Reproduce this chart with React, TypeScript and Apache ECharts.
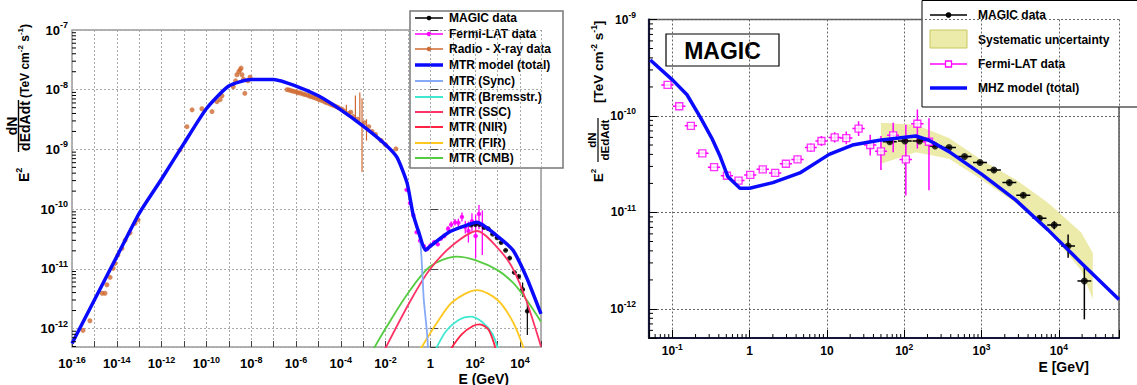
import React, { useEffect, useRef } from 'react';
import * as echarts from 'echarts';

const FONT = '"Liberation Sans", Arial, Helvetica, sans-serif';
type P = [number, number];

// ================= LEFT PANEL (MTR model) : E [GeV], E^2 dN/dE [TeV cm^-2 s^-1]
const mtrTotal: P[] = [
  [1e-16, 5.6e-13], [1e-15, 3.0e-12], [1e-14, 1.6e-11], [1e-13, 8.5e-11],
  [1e-12, 3.2e-10], [1e-11, 1.26e-9], [1e-10, 4.8e-9], [1e-9, 1.15e-8],
  [1e-8, 1.48e-8], [1e-7, 1.48e-8], [1e-6, 1.15e-8], [1e-5, 7.9e-9],
  [1e-4, 4.6e-9], [1e-3, 2.45e-9], [1e-2, 1.2e-9], [3.2e-2, 7.4e-10],
  [0.091, 2.75e-10], [0.166, 8.5e-11], [0.31, 4.0e-11], [0.6, 2.05e-11],
  [1, 2.4e-11], [7.5, 4.2e-11], [32, 5.2e-11], [120, 6.0e-11],
  [1000, 3.5e-11], [4900, 2.04e-11], [2e4, 7.1e-12], [8.7e4, 1.75e-12],
];
const mtrSync: P[] = [
  [1e-16, 5.6e-13], [1e-15, 3.0e-12], [1e-14, 1.6e-11], [1e-13, 8.5e-11],
  [1e-12, 3.2e-10], [1e-11, 1.26e-9], [1e-10, 4.8e-9], [1e-9, 1.15e-8],
  [1e-8, 1.48e-8], [1e-7, 1.48e-8], [1e-6, 1.15e-8], [1e-5, 7.9e-9],
  [1e-4, 4.6e-9], [1e-3, 2.45e-9], [1e-2, 1.2e-9], [3.2e-2, 7.3e-10],
  [0.091, 2.7e-10], [0.166, 8.2e-11], [0.35, 3.0e-11], [0.51, 3.0e-12],
  [0.7, 9.0e-13], [0.85, 3.0e-13],
];
const mtrBrems: P[] = [[1.5, 4.0e-13], [5, 9.0e-13], [20, 1.42e-12], [60, 1.58e-12], [200, 1.3e-12], [600, 8.0e-13], [1150, 4.0e-13]];
const mtrSSC: P[] = [[8e-3, 4.0e-13], [0.135, 3.0e-12], [1, 1.0e-11], [10, 2.5e-11], [120, 4.3e-11], [1000, 2.25e-11], [4900, 1.0e-11], [2e4, 2.8e-12], [8.7e4, 5.0e-13]];
const mtrNIR: P[] = [[6.5, 4.0e-13], [25, 8.0e-13], [80, 1.1e-12], [160, 1.17e-12], [400, 9.5e-13], [900, 4.0e-13]];
const mtrFIR: P[] = [[0.3, 4.0e-13], [2, 1.26e-12], [10, 2.8e-12], [120, 4.4e-12], [1000, 3.0e-12], [5000, 1.26e-12], [1.7e4, 4.0e-13]];
const mtrCMB: P[] = [[2.4e-3, 4.0e-13], [1e-2, 1.0e-12], [0.1, 3.9e-12], [1, 1.1e-11], [15, 1.6e-11], [100, 1.4e-11], [1000, 9.5e-12], [5000, 5.8e-12], [2e4, 3.0e-12], [8.7e4, 1.3e-12]];

const radioXray: P[] = [
  [3.1e-16, 9.3e-13], [6.3e-16, 1.35e-12], [2.2e-15, 3.9e-12], [2.95e-15, 3.9e-12], [3.6e-15, 5.4e-12],
  [5.0e-15, 7.2e-12], [6.8e-15, 1.02e-11], [8.3e-15, 1.23e-11], [1.12e-14, 1.7e-11], [1.7e-14, 2.2e-11],
  [2.35e-14, 3.0e-11], [3.9e-14, 4.0e-11], [6.5e-14, 5.75e-11], [8.9e-14, 6.6e-11],
  [6.6e-12, 9.8e-10], [1.35e-11, 2.4e-9], [2.3e-11, 4.6e-9], [6.3e-11, 4.8e-9], [1.78e-10, 4.3e-9],
  [2.95e-10, 6.3e-9], [4.1e-10, 6.8e-9], [5.0e-10, 7.9e-9], [1.58e-9, 1.12e-8], [2.0e-9, 1.41e-8],
  [2.3e-9, 1.78e-8], [2.8e-9, 2.0e-8], [3.2e-9, 2.15e-8], [3.55e-9, 2.3e-8], [3.9e-9, 1.78e-8],
  [4.5e-9, 1.5e-8], [5.2e-9, 8.7e-9], [7.1e-9, 1.41e-8], [8.9e-9, 1.62e-8],
  [4.0e-7, 1.0e-8], [5.0e-7, 9.9e-9], [6.3e-7, 9.6e-9], [7.9e-7, 9.4e-9], [1.0e-6, 9.2e-9],
  [1.26e-6, 8.9e-9], [1.58e-6, 8.8e-9], [2.0e-6, 8.5e-9], [2.5e-6, 8.3e-9], [3.2e-6, 8.1e-9],
  [4.0e-6, 7.8e-9], [5.0e-6, 7.6e-9], [6.3e-6, 7.4e-9], [7.9e-6, 7.2e-9], [1.0e-5, 6.9e-9],
  [1.26e-5, 6.7e-9], [1.58e-5, 6.5e-9], [2.0e-5, 6.2e-9], [2.5e-5, 6.0e-9], [3.2e-5, 5.8e-9],
  [4.0e-5, 5.6e-9], [5.0e-5, 5.4e-9], [6.3e-5, 5.2e-9],
  [7.9e-5, 5.0e-9], [1.12e-4, 4.7e-9], [1.41e-4, 4.4e-9], [2.24e-4, 4.0e-9], [2.8e-4, 4.2e-9],
  [3.55e-4, 3.55e-9], [5.6e-4, 3.2e-9], [1.12e-3, 2.8e-9], [1.78e-3, 2.4e-9], [2.5e-3, 2.0e-9],
  [3.55e-3, 1.78e-9], [6.3e-3, 1.41e-9], [1.0e-2, 1.2e-9], [2.9e-2, 1.02e-9],
];
// [E, F, Flow, Fhigh]
const radioXrayErr: number[][] = [
  [1.78e-4, 4.7e-9, 3.9e-9, 5.6e-9], [4.5e-4, 5.0e-9, 3.2e-9, 8.0e-9], [7.1e-4, 5.6e-9, 2.8e-9, 9.0e-9],
  [8.9e-4, 3.2e-9, 4.2e-10, 7.2e-9], [1.41e-3, 2.0e-9, 1.4e-9, 3.2e-9],
];

// ================= shared data: [E, F, Elow, Ehigh, Flow, Fhigh]
const fermiLAT: number[][] = [
  [0.087, 2.1e-10, 0.072, 0.104, 2.05e-10, 2.15e-10],
  [0.123, 1.26e-10, 0.102, 0.148, 1.23e-10, 1.29e-10],
  [0.174, 7.9e-11, 0.145, 0.209, 7.7e-11, 8.1e-11],
  [0.245, 4.1e-11, 0.204, 0.294, 4.0e-11, 4.2e-11],
  [0.347, 2.95e-11, 0.289, 0.416, 2.87e-11, 3.03e-11],
  [0.51, 2.4e-11, 0.425, 0.61, 2.33e-11, 2.48e-11],
  [0.72, 2.14e-11, 0.6, 0.86, 2.05e-11, 2.24e-11],
  [1.02, 2.45e-11, 0.85, 1.22, 2.32e-11, 2.6e-11],
  [1.48, 2.8e-11, 1.23, 1.78, 2.62e-11, 3.0e-11],
  [2.14, 2.57e-11, 1.78, 2.57, 2.4e-11, 2.75e-11],
  [2.95, 3.2e-11, 2.46, 3.54, 2.95e-11, 3.45e-11],
  [4.17, 3.55e-11, 3.47, 5.0, 3.25e-11, 3.9e-11],
  [6.2, 4.7e-11, 5.2, 7.4, 4.25e-11, 5.2e-11],
  [8.5, 5.5e-11, 7.1, 10.2, 4.9e-11, 6.2e-11],
  [12.6, 6.0e-11, 10.5, 15.1, 5.3e-11, 6.8e-11],
  [17.8, 5.9e-11, 14.8, 21.4, 5.1e-11, 6.9e-11],
  [25.7, 7.4e-11, 21.4, 30.8, 6.2e-11, 8.8e-11],
  [36.3, 5.0e-11, 30.2, 43.6, 3.9e-11, 6.4e-11],
  [50, 4.3e-11, 42, 60, 2.75e-11, 6.2e-11],
  [72, 6.3e-11, 60, 86, 4.2e-11, 8.5e-11],
  [105, 3.55e-11, 87, 126, 1.5e-11, 8.1e-11],
  [148, 8.3e-11, 123, 178, 4.6e-11, 1.17e-10],
  [209, 5.4e-11, 174, 251, 1.7e-11, 9.5e-11],
];
const magicData: number[][] = [
  [65, 5.4e-11, 53, 80, 5.2e-11, 5.6e-11],
  [102, 5.5e-11, 83, 125, 5.3e-11, 5.7e-11],
  [158, 5.5e-11, 128, 194, 5.3e-11, 5.7e-11],
  [251, 4.9e-11, 204, 309, 4.75e-11, 5.05e-11],
  [380, 4.7e-11, 309, 467, 4.55e-11, 4.85e-11],
  [603, 3.8e-11, 490, 742, 3.68e-11, 3.92e-11],
  [955, 3.3e-11, 776, 1175, 3.18e-11, 3.42e-11],
  [1445, 2.75e-11, 1175, 1778, 2.63e-11, 2.87e-11],
  [2290, 2.04e-11, 1862, 2818, 1.94e-11, 2.14e-11],
  [3470, 1.51e-11, 2820, 4270, 1.42e-11, 1.6e-11],
  [5620, 8.7e-12, 4570, 6910, 8.1e-12, 9.3e-12],
  [8710, 7.4e-12, 7080, 10700, 6.7e-12, 8.1e-12],
  [13180, 4.5e-12, 10700, 16200, 3.4e-12, 5.9e-12],
  [21380, 1.95e-12, 17400, 26300, 7.8e-13, 2.75e-12],
];

// ================= RIGHT PANEL (MHZ model)
const mhzModel: P[] = [
  [0.052, 3.8e-10], [0.102, 2.34e-10], [0.155, 1.66e-10], [0.229, 9.8e-11], [0.324, 5.9e-11],
  [0.417, 3.8e-11], [0.525, 2.34e-11], [0.75, 1.78e-11], [1.0, 1.78e-11], [2.0, 2.04e-11],
  [4.47, 2.57e-11], [10.7, 4.0e-11], [21.4, 5.0e-11], [47.9, 5.6e-11], [141, 6.2e-11],
  [209, 5.6e-11], [380, 4.27e-11], [1000, 2.5e-11], [2750, 1.35e-11], [7240, 6.6e-12],
  [19500, 3.0e-12], [60000, 1.25e-12],
];
const sysE = [50, 141, 380, 1000, 2750, 7240, 19500, 27500];
const sysUpper = [8.5e-11, 8.1e-11, 5.9e-11, 3.5e-11, 2.2e-11, 1.26e-11, 6.2e-12, 3.8e-12];
const sysLower = [3.2e-11, 4.2e-11, 3.6e-11, 2.2e-11, 1.26e-11, 6.6e-12, 2.5e-12, 1.26e-12];

const leftLegend = [
  { name: 'MAGIC data', color: '#000000', w: 1.5, dot: 'c' },
  { name: 'Fermi-LAT data', color: '#ff00ff', w: 1.5, dot: 'c' },
  { name: 'Radio - X-ray data', color: '#cf6a32', w: 1.5, dot: 'c' },
  { name: 'MTR model (total)', color: '#0a0aff', w: 3.5, dot: '' },
  { name: 'MTR (Sync)', color: '#86aaf8', w: 2, dot: '' },
  { name: 'MTR (Bremsstr.)', color: '#40e8d0', w: 2, dot: '' },
  { name: 'MTR (SSC)', color: '#ff3366', w: 2, dot: '' },
  { name: 'MTR (NIR)', color: '#ff2244', w: 2, dot: '' },
  { name: 'MTR (FIR)', color: '#ffc820', w: 2, dot: '' },
  { name: 'MTR (CMB)', color: '#55cc40', w: 2, dot: '' },
];

// ----------------------------------------------------------------
const L = (d: P[]) => d.map(([e, f]) => [Math.log10(e), f]);
const lg = (v: number) => Math.log10(v);
const id = (v: number) => v;

function lineS(data: any[], color: string, width: number, axis: number, smooth: any = false) {
  return {
    type: 'line', data, xAxisIndex: axis, yAxisIndex: axis, showSymbol: false, symbol: 'none',
    smooth, clip: true, silent: true, lineStyle: { color, width }, itemStyle: { color },
  };
}
function scatS(data: any[], axis: number, symbol: string, size: number, itemStyle: any) {
  return { type: 'scatter', data, xAxisIndex: axis, yAxisIndex: axis, symbol, symbolSize: size, itemStyle, silent: true, clip: true };
}
function errS(rows: number[][], color: string, width: number, axis: number, tx: (v: number) => number) {
  return {
    type: 'custom', xAxisIndex: axis, yAxisIndex: axis, silent: true, clip: true,
    data: rows.map((r) => [tx(r[0]), r[1], tx(r[2]), tx(r[3]), r[4], r[5]]),
    encode: { x: 0, y: 1 },
    renderItem: (_p: any, api: any) => {
      const y = api.value(1), x = api.value(0);
      const a = api.coord([api.value(2), y]);
      const b = api.coord([api.value(3), y]);
      const lo = api.coord([x, api.value(4)]);
      const hi = api.coord([x, api.value(5)]);
      const st = { stroke: color, lineWidth: width };
      return {
        type: 'group', children: [
          { type: 'line', shape: { x1: a[0], y1: a[1], x2: b[0], y2: b[1] }, style: st },
          { type: 'line', shape: { x1: lo[0], y1: lo[1], x2: hi[0], y2: hi[1] }, style: st },
        ],
      };
    },
  };
}
function minorVals(lo: number, hi: number) {
  const out: number[] = [];
  for (let k = Math.floor(Math.log10(lo)); k <= Math.ceil(Math.log10(hi)); k++) {
    for (let m = 2; m <= 9; m++) { const v = m * Math.pow(10, k); if (v > lo && v < hi) out.push(v); }
  }
  return out;
}
function tickS(axis: number, pts: number[][], dir: 'x' | 'y', len: number) {
  return {
    type: 'custom', xAxisIndex: axis, yAxisIndex: axis, silent: true, clip: false, z: 6,
    data: pts, encode: { x: 0, y: 1 },
    renderItem: (_p: any, api: any) => {
      const c = api.coord([api.value(0), api.value(1)]);
      const shape = dir === 'x' ? { x1: c[0], y1: c[1], x2: c[0], y2: c[1] - len } : { x1: c[0], y1: c[1], x2: c[0] + len, y2: c[1] };
      return { type: 'line', shape, style: { stroke: '#000', lineWidth: 1 } };
    },
  };
}
const rich = (fs: number, sfs: number, lh: number) => ({
  b: { fontSize: fs, fontWeight: 'bold', fontFamily: FONT, color: '#000', lineHeight: lh },
  s: { fontSize: sfs, fontWeight: 'bold', fontFamily: FONT, color: '#000', lineHeight: sfs + 1, verticalAlign: 'top' },
});
function expFmt(e: number, step: number) {
  const r = Math.round(e);
  if (Math.abs(e - r) > 1e-6 || r % step !== 0) return '';
  if (r === 0) return '{b|1}';
  if (r === 1) return '{b|10}';
  return `{b|10}{s|${r}}`;
}
const txt = (text: string, x: number, y: number, fs: number, align = 'left', extra: any = {}) => ({
  type: 'text', x, y,
  style: { text, fontSize: fs, fontWeight: 'bold', fontFamily: FONT, fill: '#000', align, verticalAlign: 'middle', textAlign: align, textVerticalAlign: 'middle', ...extra },
});

function buildOption() {
  const leftRows = [18, 34, 49, 65, 81, 97, 112, 127, 143, 158];
  const leftLegendChildren: any[] = [
    { type: 'rect', shape: { x: 410, y: 11, width: 153, height: 157 }, style: { fill: '#fff', stroke: '#777', lineWidth: 1.5 } },
  ];
  leftLegend.forEach((it, i) => {
    const y = leftRows[i];
    leftLegendChildren.push({ type: 'line', shape: { x1: 415, y1: y, x2: 443, y2: y }, style: { stroke: it.color, lineWidth: it.w } });
    if (it.dot) leftLegendChildren.push({ type: 'circle', shape: { cx: 429, cy: y, r: 2.3 }, style: { fill: it.color } });
    leftLegendChildren.push(txt(it.name, 449, y, 12));
  });

  const rRows = [15, 40, 64, 88];
  const rightLegendChildren: any[] = [
    { type: 'rect', shape: { x: 922, y: 0.5, width: 230, height: 106.5 }, style: { fill: '#fff', stroke: '#000', lineWidth: 1 } },
    { type: 'line', shape: { x1: 930, y1: rRows[0], x2: 967, y2: rRows[0] }, style: { stroke: '#000', lineWidth: 1.3 } },
    { type: 'circle', shape: { cx: 948.5, cy: rRows[0], r: 2.8 }, style: { fill: '#000' } },
    txt('MAGIC data', 978, rRows[0], 12),
    { type: 'rect', shape: { x: 930, y: 30, width: 37, height: 18 }, style: { fill: '#ecebaa', stroke: '#c9c860', lineWidth: 1 } },
    txt('Systematic uncertainty', 978, rRows[1], 12),
    { type: 'line', shape: { x1: 930, y1: rRows[2], x2: 967, y2: rRows[2] }, style: { stroke: '#ff00ff', lineWidth: 1.3 } },
    { type: 'rect', shape: { x: 945.5, y: rRows[2] - 3, width: 6, height: 6 }, style: { fill: '#fff', stroke: '#ff00ff', lineWidth: 1.3 } },
    txt('Fermi-LAT data', 978, rRows[2], 12),
    { type: 'line', shape: { x1: 930, y1: rRows[3], x2: 967, y2: rRows[3] }, style: { stroke: '#0a0aff', lineWidth: 3.5 } },
    txt('MHZ model (total)', 978, rRows[3], 12),
  ];

  const supRich = (fs: number, sfs: number) => ({
    n: { fontSize: fs, fontWeight: 'bold', fontFamily: FONT, fill: '#000', color: '#000', lineHeight: fs + 4 },
    s: { fontSize: sfs, fontWeight: 'bold', fontFamily: FONT, fill: '#000', color: '#000', lineHeight: sfs + 1, verticalAlign: 'top' },
  });

  const leftTitle = {
    type: 'group', x: 18.5, y: 182, rotation: Math.PI / 2, z: 100,
    children: [
      txt('{n|E}{s|2}', 0, 5, 14, 'left', { rich: supRich(14, 9) }),
      txt('dN', 56, -6.5, 14, 'center'),
      { type: 'line', shape: { x1: 30, y1: 0, x2: 82, y2: 0 }, style: { stroke: '#000', lineWidth: 1.4 } },
      txt('dEdAdt', 56, 6.5, 14, 'center'),
      txt('{n|(TeV cm}{s|-2}{n| s}{s|-1}{n|)}', 84, 6, 12, 'left', { rich: supRich(12, 8) }),
    ],
  };
  const rightTitle = {
    type: 'group', x: 598, y: 182, rotation: Math.PI / 2, z: 100,
    children: [
      txt('{n|E}{s|2}', 0, 0, 13, 'left', { rich: supRich(13, 8) }),
      txt('dN', 42, -6.5, 11.5, 'center'),
      { type: 'line', shape: { x1: 20, y1: 0, x2: 64, y2: 0 }, style: { stroke: '#000', lineWidth: 1.2 } },
      txt('dEdAdt', 42, 6.5, 11.5, 'center'),
      txt('{n|[TeV cm}{s|-2}{n| s}{s|-1}{n|]}', 79, 0, 13.5, 'left', { rich: supRich(13.5, 8.5) }),
    ],
  };

  const leftXMin = -16, leftXMax = 4.94;
  const lYMin = 4.9e-13, lYMax = 1e-7;
  const rXMin = 0.05, rXMax = 6e4, rYMin = 5e-13, rYMax = 1e-9;

  const series: any[] = [
    lineS(L(mtrCMB), '#55cc40', 1.8, 0, 0.3),
    lineS(L(mtrFIR), '#ffc820', 1.8, 0, 0.3),
    lineS(L(mtrBrems), '#40e8d0', 1.8, 0, 0.3),
    lineS(L(mtrNIR), '#ff2244', 1.8, 0, 0.3),
    lineS(L(mtrSSC), '#ff3366', 1.8, 0, 0.3),
    lineS(L(mtrSync), '#86aaf8', 1.8, 0, 0.2),
    errS(radioXrayErr.map((r) => [r[0], r[1], r[0], r[0], r[2], r[3]]), '#cf6a32', 1.2, 0, lg),
    scatS(L(radioXray), 0, 'circle', 5, { color: '#cf6a32' }),
    lineS(L(mtrTotal), '#0a0aff', 3.5, 0, 0.2),
    errS(fermiLAT, '#ff00ff', 1.3, 0, lg),
    scatS(fermiLAT.map((r) => [lg(r[0]), r[1]]), 0, 'circle', 4.5, { color: '#ff00ff' }),
    errS(magicData, '#000', 1.2, 0, lg),
    scatS(magicData.map((r) => [lg(r[0]), r[1]]), 0, 'circle', 5, { color: '#000' }),
    tickS(0, minorVals(lYMin, lYMax).map((v) => [leftXMin, v]), 'y', 4),
    // right panel
    {
      type: 'custom', xAxisIndex: 1, yAxisIndex: 1, silent: true, clip: true,
      data: sysE.map((e, i) => [e, sysLower[i], sysUpper[i]]), encode: { x: 0, y: [1, 2] },
      renderItem: (p: any, api: any) => {
        if (p.dataIndex !== 0) return null;
        const up = sysE.map((e, i) => api.coord([e, sysUpper[i]]));
        const lo = sysE.map((e, i) => api.coord([e, sysLower[i]])).reverse();
        return { type: 'polygon', shape: { points: up.concat(lo) }, style: { fill: '#ecebaa', stroke: 'none' } };
      },
    },
    lineS(mhzModel, '#0a0aff', 3.5, 1, false),
    errS(magicData, '#000', 1.5, 1, id),
    scatS(magicData.map((r) => [r[0], r[1]]), 1, 'circle', 7, { color: '#000' }),
    errS(fermiLAT, '#ff00ff', 1.5, 1, id),
    scatS(fermiLAT.map((r) => [r[0], r[1]]), 1, 'rect', 7, { color: '#fff', borderColor: '#ff00ff', borderWidth: 1.4 }),
    tickS(1, minorVals(rXMin, rXMax).map((v) => [v, rYMin]), 'x', 4),
    tickS(1, minorVals(rYMin, rYMax).map((v) => [rXMin, v]), 'y', 4),
  ];

  return {
    animation: false,
    backgroundColor: '#fff',
    textStyle: { fontFamily: FONT },
    grid: [
      { left: 72, top: 30, width: 469, height: 317, show: true, backgroundColor: '#fff', borderColor: '#999', borderWidth: 1.5, containLabel: false, outerBoundsMode: 'none' },
      { left: 649, top: 19.5, width: 470, height: 318.5, show: true, backgroundColor: '#fff', borderColor: '#555', borderWidth: 1.5, containLabel: false, outerBoundsMode: 'none' },
    ],
    xAxis: [
      {
        type: 'value', gridIndex: 0, min: leftXMin, max: leftXMax, interval: 1,
        axisLine: { show: false },
        axisTick: { show: true, inside: true, length: 6, lineStyle: { color: '#444', width: 1 } },
        splitLine: { show: true, lineStyle: { color: '#aaa', type: [2, 2], width: 1 } },
        axisLabel: { margin: 8, formatter: (v: number) => expFmt(v, 2), rich: rich(13, 9, 16) },
      },
      {
        type: 'log', logBase: 10, gridIndex: 1, min: rXMin, max: rXMax,
        axisLine: { show: true, lineStyle: { color: '#15153a', width: 2.2 } },
        axisTick: { show: true, inside: true, length: 8, lineStyle: { color: '#000', width: 1 } },
        splitLine: { show: true, lineStyle: { color: '#666', type: [2, 2], width: 1 } },
        axisLabel: { margin: 4, formatter: (v: number) => expFmt(Math.log10(v), 1), rich: rich(12, 8.5, 18) },
      },
    ],
    yAxis: [
      {
        type: 'log', logBase: 10, gridIndex: 0, min: lYMin, max: lYMax,
        axisLine: { show: false },
        axisTick: { show: true, inside: true, length: 8, lineStyle: { color: '#444', width: 1 } },
        splitLine: { show: true, lineStyle: { color: '#aaa', type: [2, 2], width: 1 } },
        axisLabel: { margin: 4, formatter: (v: number) => expFmt(Math.log10(v), 1), rich: rich(13, 9, 19) },
      },
      {
        type: 'log', logBase: 10, gridIndex: 1, min: rYMin, max: rYMax,
        axisLine: { show: true, lineStyle: { color: '#15153a', width: 2.2 } },
        axisTick: { show: true, inside: true, length: 8, lineStyle: { color: '#000', width: 1 } },
        splitLine: { show: true, lineStyle: { color: '#666', type: [2, 2], width: 1 } },
        axisLabel: { margin: 13, formatter: (v: number) => expFmt(Math.log10(v), 1), rich: rich(12, 8.5, 18) },
      },
    ],
    series,
    graphic: [
      { type: 'group', z: 100, children: leftLegendChildren },
      { type: 'group', z: 100, children: rightLegendChildren },
      {
        type: 'group', z: 100, children: [
          { type: 'rect', shape: { x: 666, y: 34, width: 113, height: 32 }, style: { fill: '#fff', stroke: '#000', lineWidth: 1.2 } },
          txt('MAGIC', 722.5, 50.5, 23, 'center'),
        ],
      },
      leftTitle,
      rightTitle,
      { ...txt('E (GeV)', 509, 378.5, 14, 'right'), z: 100 },
      { ...txt('E [GeV]', 1089, 367, 14, 'right'), z: 100 },
    ],
  };
}

export default function App() {
  const ref = useRef<HTMLDivElement>(null);
  useEffect(() => {
    if (!ref.current) return;
    const chart = echarts.init(ref.current, null, { renderer: 'svg' });
    chart.setOption(buildOption() as any);
    return () => chart.dispose();
  }, []);
  return <div ref={ref} style={{ position: 'absolute', left: 0, top: 0, width: 1137, height: 385, background: '#fff' }} />;
}
